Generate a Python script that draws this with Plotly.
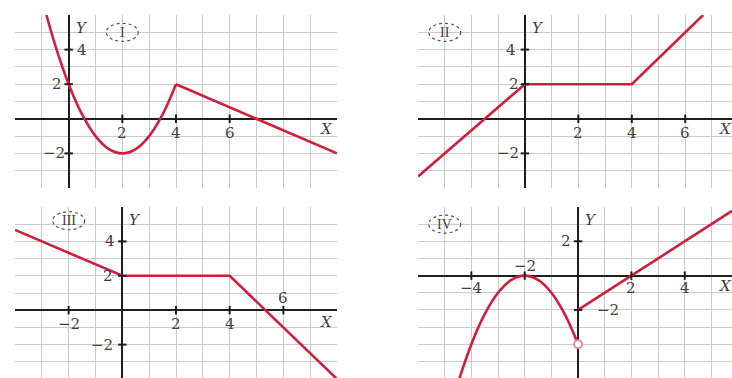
import plotly.graph_objects as go

W, H = 732, 378

# ---- data -------------------------------------------------------------
# Graph I: parabola piece then a falling segment
g1_curve_x = [-0.83, -0.5, 0, 0.5, 1, 1.5, 2, 2.5, 3, 3.5, 4]
g1_curve_y = [6, 4.25, 2, 0.25, -1, -1.75, -2, -1.75, -1, 0.25, 2]
g1_line_x = [4, 10]
g1_line_y = [2, -2]

# Graph II: rise, plateau, rise
g2_x = [-4, 0, 4, 6.67]
g2_y = [-3.33, 2, 2, 6]

# Graph III: fall, plateau, fall
g3_x = [-4, 0, 4, 8]
g3_y = [4.67, 2, 2, -4]

# Graph IV: downward parabola (open end) and a line
g4_curve_x = [-4.46, -4, -3.5, -3, -2.5, -2, -1.5, -1, -0.5, 0]
g4_curve_y = [-6.05, -4, -2.25, -1, -0.25, 0, -0.25, -1, -2.25, -4]
g4_line_x = [0, 5.77]
g4_line_y = [-2, 3.77]
g4_open_x = [0]
g4_open_y = [-4]

# tick labels: (value, text, pixel offset)
p1_xt = [(2, "2"), (4, "4"), (6, "6")]
p1_yt = [(4, "4", 13), (2, "2", -12), (-2, "\u22122", -15)]
p2_xt = [(2, "2"), (4, "4"), (6, "6")]
p2_yt = [(4, "4", -14), (2, "2", -11), (-2, "\u22122", -17)]
p3_xt = [(-2, "\u22122", -14), (2, "2", -14), (4, "4", -14), (6, "6", 12)]
p3_yt = [(4, "4", -12), (2, "2", -14), (-2, "\u22122", -20)]
p4_xt = [(-4, "\u22124", -12), (-2, "\u22122", 10), (2, "2", -12), (4, "4", -12)]
p4_yt = [(2, "2", -12), (-2, "\u22122", 30)]

panels = [
    # name, x-domain px, y-domain px, x-range, y-range, roman center
    ("I",   (15, 337),  (15, 188),  (-2, 10),   (-4, 6),     (2, 5)),
    ("II",  (418, 732), (15, 188),  (-4, 7.75), (-4, 6),     (-3, 5)),
    ("III", (15, 337),  (207, 378), (-4, 8),    (-3.94, 6),  (-2, 5.2)),
    ("IV",  (418, 732), (207, 378), (-6, 5.77), (-5.97, 4),  (-5, 3)),
]

RED = "#d01f3c"
GRID = "#cbcbcb"
AX = "#1e1e1e"
TXT = "#404040"
SERIF = "DejaVu Serif"

fig = go.Figure()
layout = dict(width=W, height=H, margin=dict(l=0, r=0, t=0, b=0),
              paper_bgcolor="white", plot_bgcolor="white", showlegend=False)

annotations = []
shapes = []

for i, (name, xd, yd, xr, yr, rc) in enumerate(panels, start=1):
    xa = "xaxis" if i == 1 else f"xaxis{i}"
    ya = "yaxis" if i == 1 else f"yaxis{i}"
    xref = "x" if i == 1 else f"x{i}"
    yref = "y" if i == 1 else f"y{i}"
    layout[xa] = dict(domain=[xd[0] / W, xd[1] / W], range=list(xr),
                      anchor=yref, tick0=0, dtick=1, showticklabels=False,
                      ticks="", showgrid=True, gridcolor=GRID, gridwidth=1,
                      zeroline=True, zerolinecolor=AX, zerolinewidth=2,
                      showline=False, fixedrange=True)
    layout[ya] = dict(domain=[1 - yd[1] / H, 1 - yd[0] / H], range=list(yr),
                      anchor=xref, tick0=0, dtick=1, showticklabels=False,
                      ticks="", showgrid=True, gridcolor=GRID, gridwidth=1,
                      zeroline=True, zerolinecolor=AX, zerolinewidth=2,
                      showline=False, fixedrange=True)
    # axis names
    annotations.append(dict(x=0, y=yr[1], xref=xref, yref=yref, text="<i>Y</i>",
                            showarrow=False, xanchor="left", yanchor="top",
                            xshift=5, yshift=-2,
                            font=dict(family=SERIF, size=15, color=TXT)))
    annotations.append(dict(x=xr[1], y=0, xref=xref, yref=yref, text="<i>X</i>",
                            showarrow=False, xanchor="right", yanchor="top",
                            xshift=-2 if i in (1, 3) else 2, yshift=1 if i != 3 else -1,
                            font=dict(family=SERIF, size=15, color=TXT)))
    # roman numeral in a dotted ellipse
    annotations.append(dict(x=rc[0], y=rc[1], xref=xref, yref=yref, text=name,
                            showarrow=False,
                            font=dict(family="Liberation Serif", size=14,
                                      color=TXT)))
    shapes.append(dict(type="circle", xref=xref, yref=yref,
                       xsizemode="pixel", ysizemode="pixel",
                       xanchor=rc[0], yanchor=rc[1],
                       x0=-16, x1=16, y0=-9, y1=9,
                       line=dict(color="#555", width=1.2, dash="dot")))


def add_xticks(ticks, xref, yref, default_dy=-14):
    for t in ticks:
        v, s = t[0], t[1]
        dy = t[2] if len(t) > 2 else default_dy
        annotations.append(dict(x=v, y=0, xref=xref, yref=yref, text=s,
                                showarrow=False, xshift=0, yshift=dy,
                                font=dict(family=SERIF, size=15, color=TXT)))
    fig.add_trace(go.Scatter(x=[t[0] for t in ticks], y=[0] * len(ticks),
                             xaxis=xref, yaxis=yref, mode="markers",
                             marker=dict(symbol="line-ns", size=6,
                                         line=dict(color=AX, width=2)),
                             hoverinfo="skip"))


def add_yticks(ticks, xref, yref):
    for v, s, dx in ticks:
        annotations.append(dict(x=0, y=v, xref=xref, yref=yref, text=s,
                                showarrow=False, xshift=dx, yshift=0,
                                font=dict(family=SERIF, size=15, color=TXT)))
    fig.add_trace(go.Scatter(x=[0] * len(ticks), y=[t[0] for t in ticks],
                             xaxis=xref, yaxis=yref, mode="markers",
                             marker=dict(symbol="line-ew", size=6,
                                         line=dict(color=AX, width=2)),
                             hoverinfo="skip"))


def curve(x, y, xref, yref, shape="linear"):
    fig.add_trace(go.Scatter(x=x, y=y, xaxis=xref, yaxis=yref, mode="lines",
                             line=dict(color=RED, width=2.6, shape=shape,
                                       smoothing=1.0),
                             cliponaxis=True, hoverinfo="skip"))


# Graph I
curve(g1_curve_x, g1_curve_y, "x", "y", "spline")
curve(g1_line_x, g1_line_y, "x", "y")
add_xticks(p1_xt, "x", "y")
add_yticks(p1_yt, "x", "y")

# Graph II
curve(g2_x, g2_y, "x2", "y2")
add_xticks(p2_xt, "x2", "y2")
add_yticks(p2_yt, "x2", "y2")

# Graph III
curve(g3_x, g3_y, "x3", "y3")
add_xticks(p3_xt, "x3", "y3")
add_yticks(p3_yt, "x3", "y3")

# Graph IV
curve(g4_curve_x, g4_curve_y, "x4", "y4", "spline")
curve(g4_line_x, g4_line_y, "x4", "y4")
add_xticks(p4_xt, "x4", "y4")
add_yticks(p4_yt, "x4", "y4")
fig.add_trace(go.Scatter(x=g4_open_x, y=g4_open_y, xaxis="x4", yaxis="y4",
                         mode="markers",
                         marker=dict(symbol="circle", size=8, color="white",
                                     line=dict(color="#e58a9c", width=2)),
                         hoverinfo="skip"))

layout["annotations"] = annotations
layout["shapes"] = shapes
fig.update_layout(**layout)
fig.write_html("out.html", config={"displayModeBar": False})
